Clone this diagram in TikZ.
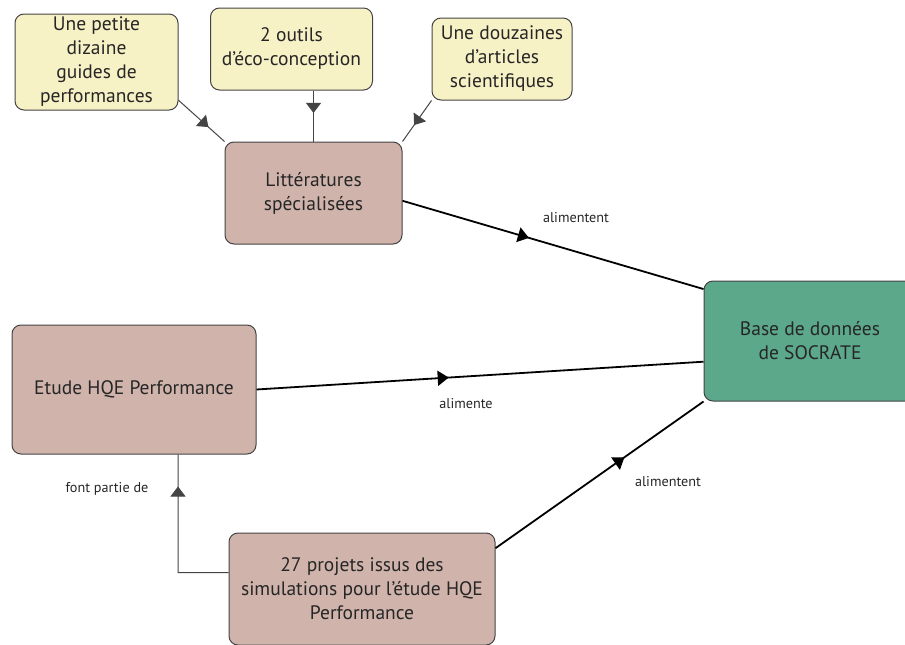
\documentclass[tikz,border=0pt]{standalone}
\usepackage{fontspec}
\setmainfont{PT Sans}
\usetikzlibrary{arrows.meta,decorations.markings}

\definecolor{sourcefill}{HTML}{F7F1C6}
\definecolor{topicfill}{HTML}{D0B4AC}
\definecolor{basefill}{HTML}{5CA88A}
\definecolor{edgegray}{HTML}{444444}

\tikzset{
  box/.style={draw=edgegray, line width=1pt, rounded corners=9pt, align=center,
    text=black!85, font=\fontsize{19.5}{24}\selectfont, inner sep=2pt},
  sourcebox/.style={box, fill=sourcefill},
  topicbox/.style={box, fill=topicfill},
  basebox/.style={box, fill=basefill},
  linklabel/.style={font=\fontsize{14.2}{16}\selectfont, text=black!85},
  thinlink/.style={draw=edgegray, line width=1pt,
    decoration={markings, mark=at position #1 with
      {\arrow[edgegray]{Triangle[length=10pt,width=15pt]}}},
    postaction={decorate}},
  thicklink/.style={draw=black, line width=1.8pt,
    decoration={markings, mark=at position #1 with
      {\arrow[black]{Triangle[length=11pt,width=15pt]}}},
    postaction={decorate}}
}

\begin{document}
\begin{tikzpicture}[x=1pt, y=-1pt]
\useasboundingbox (0,0) rectangle (905,645);

% STEP 1: The three sources at the top.
\node[sourcebox, minimum width=163, minimum height=96] (guides) at (96.5,62)
  {Une petite\\dizaine\\guides de\\performances};
\node[sourcebox, minimum width=162, minimum height=82] (outils) at (291.5,49)
  {2 outils\\d’éco-conception};
\node[sourcebox, minimum width=140, minimum height=82] (articles) at (502,59)
  {Une douzaines\\d’articles\\scientifiques};

% STEP 2: The main boxes.
\node[topicbox, minimum width=177, minimum height=102] (litterature) at (313.5,193)
  {Littératures\\spécialisées};
\node[basebox, minimum width=212, minimum height=120] (socrate) at (810,341)
  {Base de données\\de SOCRATE};
\node[topicbox, minimum width=244, minimum height=129] (etude) at (134,389.5)
  {Etude HQE Performance};
\node[topicbox, minimum width=266, minimum height=112] (projets) at (362,589)
  {27 projets issus des\\simulations pour l’étude HQE\\Performance};

% STEP 3: Thin links from the sources.
\draw[thinlink=0.65] (guides.-25) -- (litterature.north west);
\draw[thinlink=0.44] (outils.south -| litterature.north) -- (litterature.north);
\draw[thinlink=0.6] (articles.south west) -- (litterature.north east);

% STEP 4: Thick links into the database.
\draw[thicklink=0.42] (litterature.-5) -- (socrate.154);
\draw[thicklink=0.43] (etude.east) -- (socrate.191);
\draw[thicklink=0.62] (projets.17.5) -- (socrate.south west);

% STEP 5: The elbow link from the projects to the study.
\coordinate (elbow) at (178,572.5);
\draw[thinlink=0.81] (projets.173) -- (elbow) -- (elbow |- etude.south);

% STEP 6: Labels of the links.
\node[linklabel] (lblLitt) at (576,218) {alimentent};
\node[linklabel] (lblEtude) at (466,404) {alimente};
\node[linklabel] (lblProjets) at (668,482) {alimentent};
\node[linklabel] (lblPartie) at (107,489) {font partie de};

\end{tikzpicture}
\end{document}
